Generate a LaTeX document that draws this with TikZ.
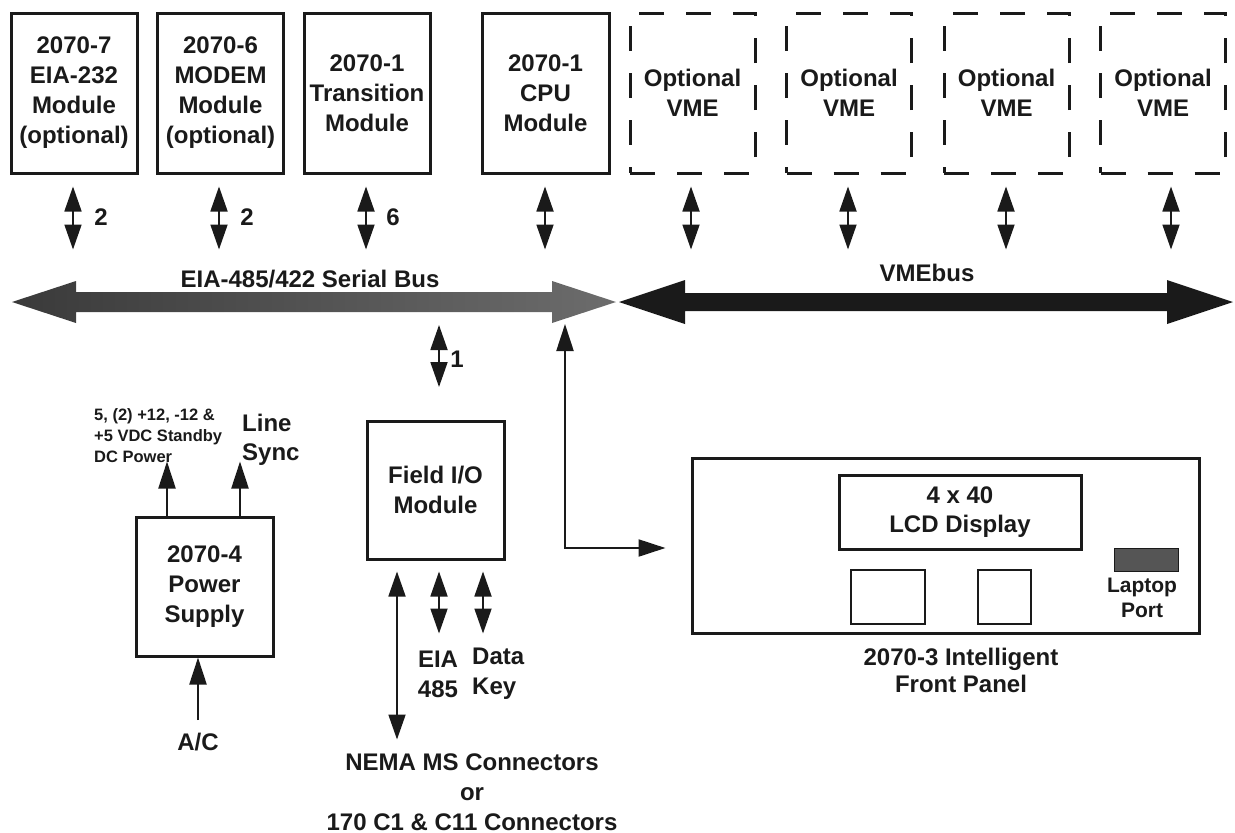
\documentclass[tikz,border=0pt]{standalone}
\usepackage{fontspec}
\setmainfont{Liberation Sans}
\usetikzlibrary{arrows.meta,calc}
\definecolor{ink}{HTML}{1A1A1A}
\definecolor{busdark}{HTML}{3A3A3A}
\definecolor{buslight}{HTML}{6C6C6C}
\definecolor{portgray}{HTML}{555555}
\begin{document}
\begin{tikzpicture}[x=1pt,y=-1pt,
  txt/.style={inner sep=0pt, align=center, text=ink, font=\bfseries\fontsize{24}{30}\selectfont},
  box/.style={txt, draw=ink, line width=3pt, minimum width=126pt, minimum height=160pt},
  dbox/.style={box, dash pattern=on 25pt off 22pt},
  plain/.style={draw=ink, line width=3pt, inner sep=0pt},
  sml/.style={draw=ink, line width=1.8pt, arrows={Triangle[width=17pt,length=25pt]-Triangle[width=17pt,length=25pt]}},
  thk/.style={draw=ink, line width=2.2pt},
  >={Triangle[width=17pt,length=27pt]}
]
\useasboundingbox (0,0) rectangle (1235,833);

% top modules
\node[box] (m1) at (74,93) {2070-7\\EIA-232\\Module\\(optional)};
\node[box] (m2) at (220.5,93) {2070-6\\MODEM\\Module\\(optional)};
\node[box] (m3) at (367,93) {2070-1\\Transition\\Module};
\node[box, minimum width=127pt] (cpu) at (545.5,93) {2070-1\\CPU\\Module};
\node[dbox, minimum width=125pt] (v1) at (692.5,93) {Optional\\VME};
\node[dbox, minimum width=125pt] (v2) at (849,93) {Optional\\VME};
\node[dbox, minimum width=125pt] (v3) at (1006.5,93) {Optional\\VME};
\node[dbox, minimum width=125pt] (v4) at (1163,93) {Optional\\VME};

% small double arrows to the buses
\draw[sml] ([xshift=-1pt,yshift=-12pt]m1.south) -- ++(0,63);
\draw[sml] ([xshift=-1.5pt,yshift=-12pt]m2.south) -- ++(0,63);
\draw[sml] ([xshift=-1pt,yshift=-12pt]m3.south) -- ++(0,63);
\draw[sml] ([xshift=-0.5pt,yshift=-12pt]cpu.south) -- ++(0,63);
\draw[sml] ([xshift=-1.5pt,yshift=-12pt]v1.south) -- ++(0,63);
\draw[sml] ([xshift=-1pt,yshift=-12pt]v2.south) -- ++(0,63);
\draw[sml] ([xshift=-0.5pt,yshift=-12pt]v3.south) -- ++(0,63);
\draw[sml] ([xshift=8pt,yshift=-12pt]v4.south) -- ++(0,63);
\node[txt] (n1) at (101,217) {2};
\node[txt] (n2) at (247,217) {2};
\node[txt] (n3) at (393,217) {6};

% buses
\shade[left color=busdark, right color=buslight]
  (12,302) -- (76,281) -- (76,292) -- (552,292) -- (552,281) -- (616,302)
  -- (552,323) -- (552,312) -- (76,312) -- (76,323) -- cycle;
\fill[ink] (619,302) -- (685,280) -- (685,293) -- (1167,293) -- (1167,280) -- (1233,302)
  -- (1167,324) -- (1167,311) -- (685,311) -- (685,324) -- cycle;
\node[txt] (sbl) at (310,279) {EIA-485/422 Serial Bus};
\node[txt] (vbl) at (927,273) {VMEbus};

% field I/O
\coordinate (c1) at (439,325);
\draw[sml] (c1) -- ++(0,62);
\node[txt] (n4) at (457,359) {1};
\node[box, minimum width=137pt, minimum height=138pt] (fio) at (435.5,490) {Field I/O\\Module};
\draw[sml] ([xshift=-38.5pt,yshift=-11pt]fio.south) -- ++(0,168);
\draw[sml] ([xshift=3.5pt,yshift=-11pt]fio.south) -- ++(0,62);
\draw[sml] ([xshift=47.5pt,yshift=-11pt]fio.south) -- ++(0,62);
\node[txt] (eia) at (438,674) {EIA\\485};
\node[txt, anchor=west, align=left] (dk) at (472,674) {Data\\Key};
\node[txt] (nema) at (472,792) {NEMA MS Connectors\\or\\170 C1 \& C11 Connectors};

% power supply
\node[box, minimum width=137pt, minimum height=139pt] (ps) at (204.5,586.5) {2070-4\\Power\\Supply};
\draw[thk,->] ([xshift=-37.5pt]ps.north) -- ++(0,-54);
\draw[thk,->] ([xshift=35.5pt]ps.north) -- ++(0,-54);
\node[txt, font=\bfseries\fontsize{16.5}{21}\selectfont, anchor=west, align=left] (dcp) at (94,436)
  {5, (2) +12, -12 \&\\+5 VDC Standby\\DC Power};
\node[txt, font=\bfseries\fontsize{24}{29}\selectfont, anchor=west, align=left] (ls) at (242,440) {Line\\Sync};
\node[txt] (acl) at (198,742) {A/C};
\coordinate (ac) at (198,720);
\draw[thk,->] (ac) -- (ac |- ps.south);

% front panel
\node[plain, minimum width=507pt, minimum height=175pt] (fp) at (945.5,545.5) {};
\node[box, minimum width=242pt, minimum height=74pt, font=\bfseries\fontsize{24}{29}\selectfont] (lcd) at (960,512) {4 x 40\\LCD Display};
\node[plain, line width=2pt, minimum width=74pt, minimum height=54pt] (k1) at (888,597) {};
\node[plain, line width=2pt, minimum width=53pt, minimum height=54pt] (k2) at (1004.5,597) {};
\node[plain, line width=1pt, fill=portgray, minimum width=64pt, minimum height=23pt] (lp) at (1146,559.5) {};
\node[txt, font=\bfseries\fontsize{21}{25}\selectfont] (lpl) at (1142,598) {Laptop\\Port};
\node[txt, font=\bfseries\fontsize{24}{27}\selectfont] (fpl) at (961,670) {2070-3 Intelligent\\Front Panel};
\coordinate (busc) at (565,324);
\draw[thk,<->] (busc) |- ([xshift=-25pt,yshift=-2.5pt]fp.west);
\end{tikzpicture}
\end{document}
